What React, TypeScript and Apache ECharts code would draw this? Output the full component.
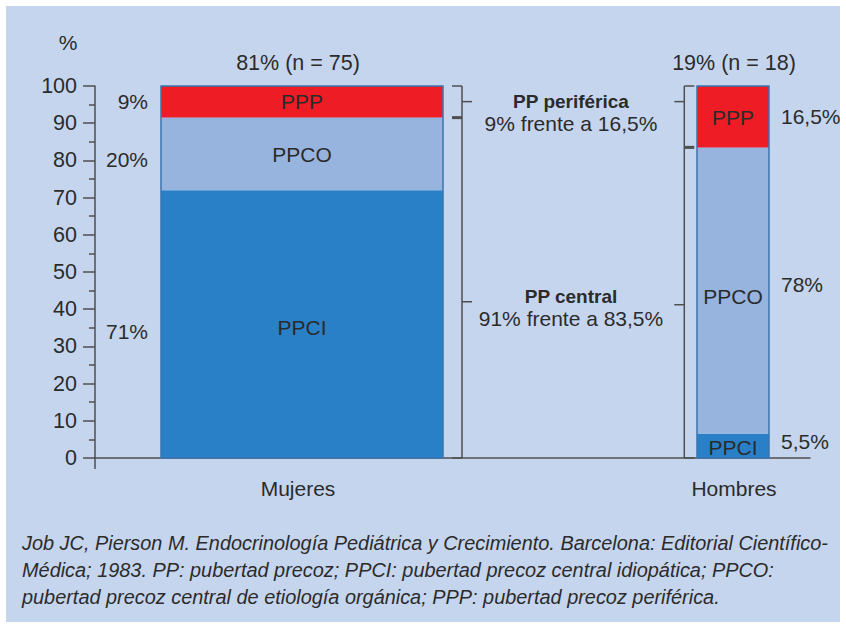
import React, { useEffect, useRef } from "react";
import * as echarts from "echarts";

// ---------- data ----------
const categories = ["Mujeres", "Hombres"];
const segmentNames = ["PPCI", "PPCO", "PPP"];
const mujeresValues = [72, 19.5, 8.5];
const hombresValues = [6.5, 77, 16.5];
const mujeresLabels = ["71%", "20%", "9%"];
const hombresLabels = ["5,5%", "78%", "16,5%"];
const groupTitles = ["81% (n = 75)", "19% (n = 18)"];
const bracketTitles = ["PP periférica", "PP central"];
const bracketTexts = ["9% frente a 16,5%", "91% frente a 83,5%"];
const yAxisName = "%";
const footnoteLines = [
  "Job JC, Pierson M. Endocrinología Pediátrica y Crecimiento. Barcelona: Editorial Científico-",
  "Médica; 1983. PP: pubertad precoz; PPCI: pubertad precoz central idiopática; PPCO:",
  "pubertad precoz central de etiología orgánica; PPP: pubertad precoz periférica.",
];

// ---------- layout / style ----------
const W = 846;
const H = 628;
const FONT = "'Liberation Sans', Arial, sans-serif";
const TEXT = "#2b2b2b";
const AXIS = "#4f4f4f";
const BG = "#c6d5ee";
const SEG_COLORS = ["#2a80c6", "#96b4dd", "#ee1c25"];
const BAR_CENTERS = [207, 638]; // in x-axis units (1 unit = 1px)
const BAR_WIDTHS = [282, 72];
const INNER_OFFSETS = [[3, 1, 0], [2, 6, 1]];
const OUTER_OFFSETS = [[7, 6, 0], [-4, -6, 0]];
const BRACKET_MIDS = [[42, 95.8], [41.2, 95.8]];
const BRACKET_TITLE_Y = [101, 296.6];
const BRACKET_TEXT_Y = [123, 318.8];

export default function App() {
  const ref = useRef<HTMLDivElement>(null);

  useEffect(() => {
    document.body.style.margin = "0";
    const chart = echarts.init(ref.current!, null, { renderer: "svg" });
    const allValues = [mujeresValues, hombresValues];
    const allLabels = [mujeresLabels, hombresLabels];

    const renderBars = (params: any, api: any) => {
      const i = params.dataIndex;
      const vals = allValues[i];
      const cx = BAR_CENTERS[i];
      const w = BAR_WIDTHS[i];
      const children: any[] = [];
      let cum = 0;
      let barTop = 0;
      let barBottom = 0;
      vals.forEach((v, k) => {
        const top = api.coord([cx, cum + v]);
        const bot = api.coord([cx, cum]);
        if (k === 0) barBottom = bot[1];
        barTop = top[1];
        const x0 = top[0] - w / 2;
        children.push({
          type: "rect",
          shape: { x: x0, y: top[1], width: w, height: bot[1] - top[1] },
          style: { fill: SEG_COLORS[k] },
        });
        const mid = (top[1] + bot[1]) / 2;
        children.push({
          type: "text",
          style: {
            x: top[0],
            y: mid + INNER_OFFSETS[i][k],
            text: segmentNames[k],
            fill: TEXT,
            font: `21px ${FONT}`,
            align: "center",
            verticalAlign: "middle",
          },
          z2: 10,
        });
        children.push({
          type: "text",
          style: {
            x: i === 0 ? x0 - 13 : x0 + w + 12,
            y: mid + OUTER_OFFSETS[i][k],
            text: allLabels[i][k],
            fill: TEXT,
            font: `21px ${FONT}`,
            align: i === 0 ? "right" : "left",
            verticalAlign: "middle",
          },
        });
        cum += v;
      });
      const c = api.coord([cx, 0]);
      children.push({
        type: "rect",
        shape: { x: c[0] - w / 2, y: barTop, width: w, height: barBottom - barTop },
        style: { fill: "none", stroke: "#3a74ae", lineWidth: 1.5 },
        z2: 5,
      });
      children.push({
        type: "text",
        style: {
          x: c[0] + (i === 0 ? -4 : 1),
          y: barTop - 23,
          text: groupTitles[i],
          fill: TEXT,
          font: `21.5px ${FONT}`,
          align: "center",
          verticalAlign: "middle",
        },
      });
      children.push({
        type: "text",
        style: {
          x: c[0] + (i === 0 ? -4 : 1),
          y: c[1] + 30,
          text: categories[i],
          fill: TEXT,
          font: `21px ${FONT}`,
          align: "center",
          verticalAlign: "middle",
        },
      });
      return { type: "group", children };
    };

    const renderBrackets = (params: any, api: any) => {
      const i = params.dataIndex;
      const vals = allValues[i];
      const cx = BAR_CENTERS[i];
      const w = BAR_WIDTHS[i];
      const c = api.coord([cx, 0]);
      const bx = i === 0 ? c[0] + w / 2 + 19 : c[0] - w / 2 - 12.7;
      const endDir = i === 0 ? -10 : 10;
      const midDir = -endDir;
      const total = vals.reduce((a, b) => a + b, 0);
      const boundary = vals[0] + vals[1];
      const yTop = api.coord([cx, total])[1];
      const yBot = api.coord([cx, 0])[1];
      const yB = api.coord([cx, boundary])[1];
      const st = { stroke: AXIS, lineWidth: 1.5 };
      const children: any[] = [
        { type: "line", shape: { x1: bx, y1: yTop, x2: bx, y2: yBot }, style: st },
        { type: "line", shape: { x1: bx, y1: yTop, x2: bx + endDir, y2: yTop }, style: st },
        { type: "line", shape: { x1: bx, y1: yBot, x2: bx + endDir, y2: yBot }, style: st },
        { type: "line", shape: { x1: bx, y1: yB, x2: bx + endDir, y2: yB }, style: { stroke: AXIS, lineWidth: 3 } },
      ];
      BRACKET_MIDS[i].forEach((m) => {
        const y = api.coord([cx, m])[1];
        children.push({ type: "line", shape: { x1: bx, y1: y, x2: bx + midDir, y2: y }, style: st });
      });
      return { type: "group", children };
    };

    const graphics: any[] = [
      { type: "rect", shape: { x: 6, y: 6, width: W - 12, height: H - 12 }, style: { fill: BG }, z: -10, silent: true },
      {
        type: "text",
        x: 68,
        y: 42,
        style: { text: yAxisName, fill: TEXT, font: `21px ${FONT}`, align: "center", verticalAlign: "middle" },
      },
      { type: "line", shape: { x1: 95, y1: 457, x2: 95, y2: 469 }, style: { stroke: AXIS, lineWidth: 1.5 } },
    ];
    bracketTitles.forEach((title, k) => {
      graphics.push({
        type: "text",
        x: 571,
        y: BRACKET_TITLE_Y[k],
        style: {
          text: title,
          fill: TEXT,
          font: `bold 19px ${FONT}`,
          align: "center",
          verticalAlign: "middle",
        },
      });
      graphics.push({
        type: "text",
        x: 571,
        y: BRACKET_TEXT_Y[k],
        style: {
          text: bracketTexts[k],
          fill: TEXT,
          font: `21px ${FONT}`,
          align: "center",
          verticalAlign: "middle",
        },
      });
    });
    footnoteLines.forEach((line, k) => {
      graphics.push({
        type: "text",
        x: 22,
        y: 543 + k * 27,
        style: {
          text: line,
          fill: TEXT,
          font: `italic 19.9px ${FONT}`,
          align: "left",
          verticalAlign: "middle",
        },
      });
    });

    chart.setOption({
      animation: false,
      backgroundColor: "#ffffff",
      grid: { left: 95, right: 36, top: 86, bottom: 170, containLabel: false },
      xAxis: {
        type: "value",
        min: 0,
        max: 715,
        axisLine: { show: true, onZero: true, lineStyle: { color: AXIS, width: 1.5 } },
        axisTick: { show: false },
        axisLabel: { show: false },
        splitLine: { show: false },
      },
      yAxis: {
        type: "value",
        min: 0,
        max: 100,
        interval: 10,
        axisLine: { show: true, lineStyle: { color: AXIS, width: 1.5 } },
        axisTick: { show: true, length: 12, lineStyle: { color: AXIS, width: 1.5 } },
        minorTick: { show: true, splitNumber: 2, length: 6, lineStyle: { color: AXIS, width: 1.5 } },
        axisLabel: { fontSize: 21.5, color: TEXT, margin: 18, fontFamily: FONT },
        splitLine: { show: false },
        minorSplitLine: { show: false },
      },
      graphic: graphics,
      series: [
        {
          type: "custom",
          renderItem: renderBars,
          data: categories.map((_, i) => [i]),
          encode: { x: 0 },
          z: 3,
        },
        {
          type: "custom",
          renderItem: renderBrackets,
          data: categories.map((_, i) => [i]),
          encode: { x: 0 },
          z: 4,
        },
      ],
    });
    return () => chart.dispose();
  }, []);

  return (
    <div
      ref={ref}
      style={{ position: "absolute", left: 0, top: 0, width: W, height: H }}
    />
  );
}
